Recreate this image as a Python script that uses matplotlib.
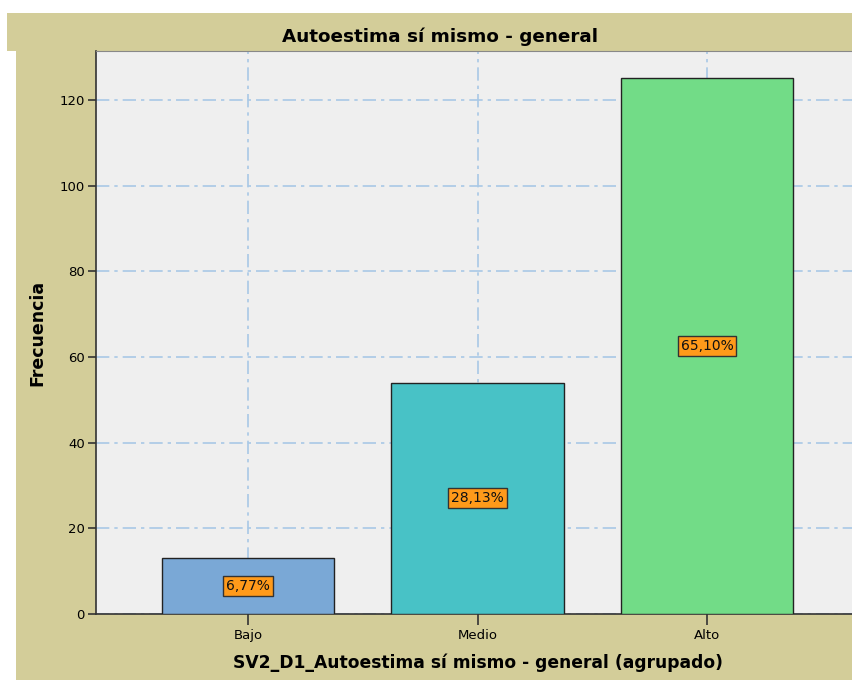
import numpy as np
import matplotlib.pyplot as plt
from matplotlib.patches import Rectangle

categories = ["Bajo", "Medio", "Alto"]
counts = [13, 54, 125]
pct_labels = ["6,77%", "28,13%", "65,10%"]
bar_colors = ["#7aa8d6", "#48c2c6", "#72dc87"]

TAN = "#d3cd99"
W, H = 852, 680

fig = plt.figure(figsize=(W / 100, H / 100), dpi=100, facecolor="white")

# tan background panels (title band + body)
fig.patches.append(Rectangle((7 / W, 1 - 51 / H), 1, 38 / H, transform=fig.transFigure,
                             facecolor=TAN, edgecolor="none", zorder=-2))
fig.patches.append(Rectangle((16 / W, 0), 1, 1 - 51 / H, transform=fig.transFigure,
                             facecolor=TAN, edgecolor="none", zorder=-2))

ax = fig.add_axes([96 / W, 1 - 614 / H, (859 - 96) / W, (614 - 51) / H])
ax.set_facecolor("#efefef")

x = np.arange(len(categories))
bars = ax.bar(x, counts, width=0.75, color=bar_colors, edgecolor="#222222", linewidth=1.0, zorder=3)

for xi, c, lab in zip(x, counts, pct_labels):
    ax.text(xi, c / 2, lab, ha="center", va="center", fontsize=10, color="#111111", zorder=4,
            bbox=dict(boxstyle="square,pad=0.22", facecolor="#ff9a1a", edgecolor="#333333", linewidth=1.0))

ax.set_xlim(-0.662, 2.662)
ax.set_ylim(0, 131.4)
ax.set_xticks(x)
ax.set_xticklabels(categories, fontsize=9.5)
ax.set_yticks(np.arange(0, 121, 20))
ax.tick_params(axis="y", labelsize=9.5, length=6, width=1.2, color="#333333", pad=2)
ax.tick_params(axis="x", length=8, width=1.2, color="#333333", pad=3)

ax.grid(True, color="#a9c8e6", linestyle=(0, (8, 3, 2, 3)), linewidth=1.2, zorder=1)
ax.set_axisbelow(True)

for s in ["left", "bottom"]:
    ax.spines[s].set_color("#333333")
    ax.spines[s].set_linewidth(1.2)
ax.spines["top"].set_color("#888888")
ax.spines["right"].set_visible(False)

ax.set_ylabel("Frecuencia", fontsize=12.5, fontweight="bold", va="center")
ax.yaxis.set_label_coords(-(96 - 37) / (859 - 96), 0.5)
ax.set_xlabel("SV2_D1_Autoestima sí mismo - general (agrupado)", fontsize=12.3, fontweight="bold", va="center")
ax.xaxis.set_label_coords((478 - 96) / (859 - 96), -(663 - 614) / (614 - 51))

fig.text(440 / W, 1 - 37 / H, "Autoestima sí mismo - general", ha="center", va="center",
         fontsize=13.2, fontweight="bold")

plt.savefig("out.png", dpi=100, facecolor=fig.get_facecolor())
